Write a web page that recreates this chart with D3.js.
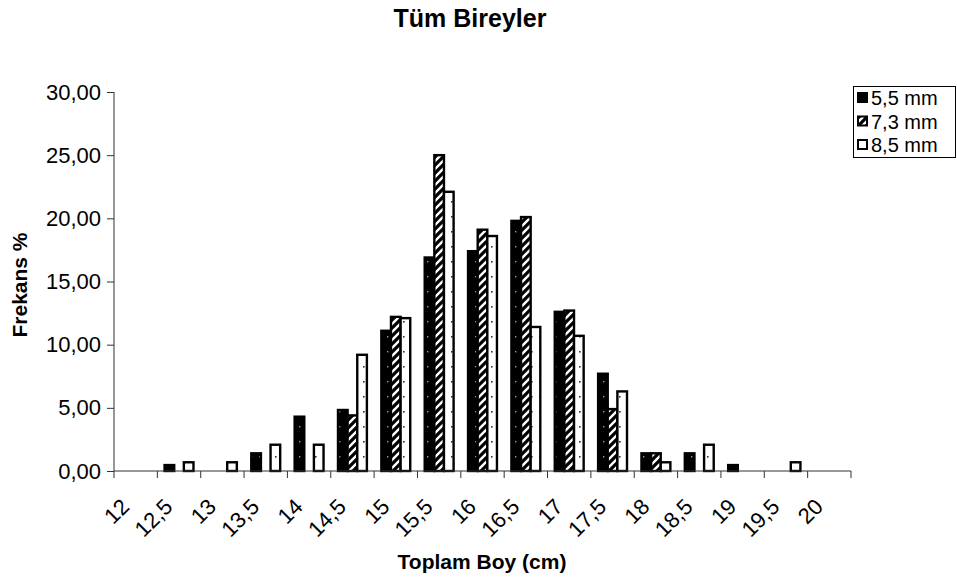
<!DOCTYPE html>
<html><head><meta charset="utf-8">
<script src="https://cdn.jsdelivr.net/npm/d3@7"></script>
<style>
body{margin:0;background:#fff}
text{font-family:"Liberation Sans",Arial,sans-serif;fill:#000}
</style></head>
<body><svg id="c" width="957" height="579"></svg>
<script>
const categories = ["12","12,5","13","13,5","14","14,5","15","15,5","16","16,5","17","17,5","18","18,5","19","19,5","20"];
const seriesNames = ["5,5 mm","7,3 mm","8,5 mm"];
const s55 = [0,0.47,0,1.40,4.30,4.83,11.1,16.9,17.4,19.8,12.6,7.7,1.40,1.40,0.47,0,0];
const s73 = [0,0,0,0,0,4.4,12.2,25.0,19.1,20.1,12.7,4.9,1.40,0,0,0,0];
const s85 = [0,0.69,0.69,2.08,2.08,9.2,12.1,22.1,18.6,11.4,10.7,6.3,0.69,2.08,0,0.69,0];
const yTicks = [0,5,10,15,20,25,30];
const title = "Tüm Bireyler";
const xTitle = "Toplam Boy (cm)";
const yTitle = "Frekans %";

const seriesValues = [s55, s73, s85];
const svg = d3.select("#c");
const L = 114, R = 851, T = 92, B = 471;

const defs = svg.append("defs");
const p1 = defs.append("pattern").attr("id","pBlack").attr("patternUnits","userSpaceOnUse").attr("width",8).attr("height",15);
p1.append("rect").attr("width",8).attr("height",15).attr("fill","#000");
p1.append("rect").attr("x",3).attr("y",6).attr("width",1.4).attr("height",1.4).attr("fill","#999");
const p2 = defs.append("pattern").attr("id","pHatch").attr("patternUnits","userSpaceOnUse").attr("width",8).attr("height",8);
p2.append("rect").attr("width",8).attr("height",8).attr("fill","#fff");
p2.append("path").attr("d","M-2,2 L2,-2 M0,8 L8,0 M6,10 L10,6").attr("stroke","#000").attr("stroke-width",3.2);
const p3 = defs.append("pattern").attr("id","pDots").attr("patternUnits","userSpaceOnUse").attr("width",8).attr("height",15);
p3.append("rect").attr("width",8).attr("height",15).attr("fill","#fff");
p3.append("rect").attr("x",3).attr("y",6).attr("width",1.6).attr("height",1.6).attr("fill","#333");
const fills = ["url(#pBlack)","url(#pHatch)","url(#pDots)"];
const legendFills = ["#000","url(#pHatch)","#fff"];

const x0 = d3.scaleBand().domain(categories).range([L, R]).padding(0);
const x1 = d3.scaleBand().domain(seriesNames).range([0, x0.bandwidth()]).paddingInner(0).paddingOuter(0.75);
const y = d3.scaleLinear().domain([0,30]).range([B, T]);

seriesNames.forEach((s, si) => {
  svg.append("g").selectAll("rect").data(categories.map((c,i)=>({c, v: seriesValues[si][i]})).filter(d=>d.v>0))
    .join("rect")
    .attr("x", d => x0(d.c) + x1(s))
    .attr("y", d => y(d.v))
    .attr("width", x1.bandwidth())
    .attr("height", d => B - y(d.v))
    .attr("fill", fills[si])
    .attr("stroke", "#000").attr("stroke-width", 2.4);
});

const yAxis = d3.axisLeft(y).tickValues(yTicks).tickSize(7).tickPadding(6)
  .tickFormat(d => d3.format(".2f")(d).replace(".", ","));
const gy = svg.append("g").attr("transform", `translate(${L},0)`).call(yAxis);
gy.select(".domain").attr("stroke","#333").attr("d", `M0,${T}V${B}`);
gy.selectAll(".tick line").attr("stroke","#333");
gy.selectAll("text").style("font-size","22px").attr("fill","#000");

const gx = svg.append("g").attr("transform", `translate(0,${B})`);
gx.append("line").attr("x1",L).attr("x2",R).attr("stroke","#333");
const bounds = categories.map(c => x0(c)).concat([R]);
gx.selectAll(".tk").data(bounds).join("line").attr("class","tk")
  .attr("x1",d=>d).attr("x2",d=>d).attr("y1",0).attr("y2",7).attr("stroke","#333");
gx.selectAll(".lbl").data(categories).join("text").attr("class","lbl")
  .attr("transform", d => `translate(${x0(d)+x0.bandwidth()/2-5},37) rotate(-45)`)
  .attr("text-anchor","end").style("font-size","22px").text(d=>d);

svg.append("text").attr("x",470).attr("y",27).attr("text-anchor","middle")
  .style("font-size","25px").style("font-weight","bold").text(title);
svg.append("text").attr("x",482).attr("y",569).attr("text-anchor","middle")
  .style("font-size","21px").style("font-weight","bold").text(xTitle);
svg.append("text").attr("transform","translate(27,285) rotate(-90)").attr("text-anchor","middle")
  .style("font-size","21px").style("font-weight","bold").text(yTitle);

const lg = svg.append("g");
lg.append("rect").attr("x",853.5).attr("y",86.5).attr("width",102).attr("height",71)
  .attr("fill","#fff").attr("stroke","#000").attr("stroke-width",1);
seriesNames.forEach((s, i) => {
  const cy = 98 + i*23.5;
  lg.append("rect").attr("x",858).attr("y",cy-5).attr("width",9).attr("height",9)
    .attr("fill",legendFills[i]).attr("stroke","#000").attr("stroke-width",2);
  lg.append("text").attr("x",871).attr("y",cy).attr("dy","0.35em").style("font-size","20px").text(s);
});
</script></body></html>
